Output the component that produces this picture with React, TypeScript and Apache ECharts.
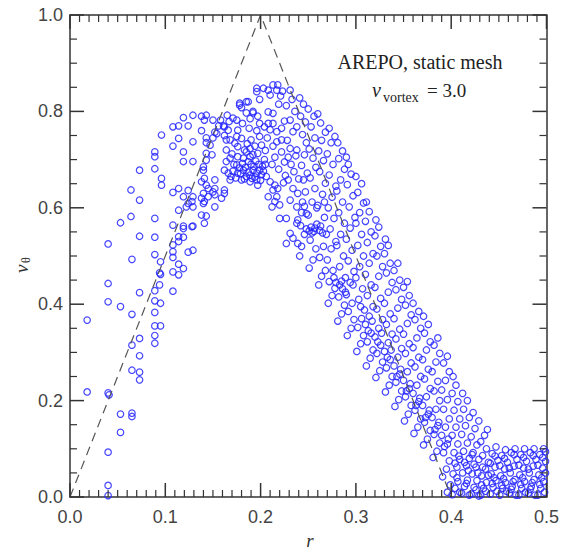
import React, { useEffect, useRef } from 'react';
import * as echarts from 'echarts';

// Axis ticks
const xTickValues = [0, 0.1, 0.2, 0.3, 0.4, 0.5];
const yTickValues = [0, 0.2, 0.4, 0.6, 0.8, 1.0];
const xMinorSplit = 10;
const yMinorSplit = 4;

// Analytic (dashed) profile: r, v
const analyticR = [0, 0.2, 0.4];
const analyticV = [0, 1, 0];

const innerPoints: number[][] = [
  [0.018,0.367],[0.018,0.218],
  [0.040,0.525],[0.040,0.443],[0.040,0.405],[0.040,0.216],[0.041,0.212],[0.040,0.093],[0.040,0.024],[0.040,0.003],
  [0.053,0.569],[0.053,0.395],[0.053,0.172],[0.053,0.134],
  [0.064,0.637],[0.064,0.582],[0.065,0.493],[0.065,0.379],[0.065,0.315],[0.065,0.263],[0.065,0.174],[0.065,0.167],
  [0.073,0.678],[0.073,0.616],[0.073,0.541],[0.073,0.424],[0.073,0.329],[0.073,0.293],[0.073,0.259],[0.073,0.243],
  [0.089,0.716],[0.089,0.706],[0.089,0.681],[0.089,0.578],[0.089,0.539],[0.089,0.503],[0.089,0.428],[0.089,0.407],
  [0.089,0.383],[0.089,0.355],[0.089,0.335],[0.089,0.319],
  [0.095,0.488],[0.095,0.462],[0.095,0.402],[0.095,0.355],[0.096,0.751],[0.096,0.661],[0.096,0.647],[0.094,0.465],[0.094,0.440],
];

const risePoints: number[][] = [
  [0.108,0.509],[0.108,0.497],[0.108,0.427],[0.108,0.467],[0.108,0.523],[0.108,0.564],[0.108,0.632],[0.108,0.728],[0.108,0.768],
  [0.114,0.483],[0.114,0.461],[0.114,0.530],[0.114,0.540],[0.114,0.595],[0.114,0.640],[0.114,0.744],[0.114,0.770],
  [0.119,0.474],[0.119,0.539],[0.119,0.557],[0.119,0.562],[0.119,0.623],[0.119,0.696],[0.119,0.716],[0.119,0.787],
  [0.122,0.602],[0.124,0.508],[0.124,0.609],[0.124,0.636],[0.124,0.770],
  [0.128,0.561],[0.128,0.613],[0.129,0.512],[0.129,0.562],[0.129,0.602],[0.129,0.623],[0.129,0.696],[0.129,0.737],[0.129,0.792],
  [0.138,0.585],[0.138,0.620],[0.138,0.654],[0.138,0.760],[0.138,0.790],
  [0.140,0.609],[0.140,0.630],[0.140,0.678],[0.140,0.685],
  [0.141,0.568],[0.141,0.613],[0.141,0.661],[0.141,0.782],
  [0.143,0.583],[0.143,0.647],[0.143,0.699],[0.143,0.713],[0.143,0.735],[0.143,0.745],[0.143,0.792],
  [0.145,0.623],[0.145,0.640],
  [0.147,0.730],[0.149,0.710],[0.150,0.633],[0.150,0.745],[0.150,0.782],
  [0.152,0.602],[0.152,0.627],[0.152,0.640],[0.152,0.658],[0.152,0.757],
  [0.154,0.754],[0.159,0.620],[0.161,0.770],[0.162,0.630],[0.162,0.637],[0.162,0.678],[0.162,0.750],[0.162,0.768],
  [0.164,0.696],[0.164,0.720],[0.164,0.741],[0.166,0.672],[0.166,0.761],[0.168,0.658],[0.168,0.703],[0.168,0.741],[0.169,0.665],
  [0.156,0.770],[0.158,0.782],[0.165,0.792],[0.167,0.779],
];

const peakPoints: number[][] = [
  [0.175,0.782],[0.176,0.761],[0.178,0.817],[0.185,0.820],[0.180,0.808],[0.178,0.813],[0.187,0.820],[0.192,0.800],[0.197,0.790],
  [0.196,0.841],[0.196,0.848],[0.203,0.848],[0.208,0.844],[0.213,0.855],[0.218,0.855],[0.217,0.844],[0.210,0.834],[0.199,0.825],
  [0.221,0.832],[0.223,0.842],[0.231,0.844],
  [0.185,0.797],[0.192,0.797],[0.189,0.785],
  [0.175,0.748],[0.176,0.727],[0.183,0.720],[0.189,0.723],[0.190,0.741],[0.199,0.748],
  [0.199,0.775],[0.208,0.799],[0.213,0.796],[0.208,0.775],[0.213,0.775],[0.217,0.758],[0.222,0.765],[0.222,0.741],[0.217,0.737],
  [0.231,0.782],[0.238,0.768],[0.231,0.723],[0.238,0.720],
  [0.176,0.672],[0.182,0.678],[0.185,0.665],[0.189,0.668],[0.192,0.678],[0.196,0.672],[0.199,0.678],[0.196,0.658],[0.197,0.647],
  [0.189,0.654],[0.180,0.658],[0.185,0.716],[0.189,0.706],[0.187,0.696],[0.182,0.703],[0.192,0.710],[0.176,0.706],[0.175,0.689],
  [0.172,0.690],[0.178,0.683],[0.181,0.692],[0.184,0.684],[0.187,0.674],[0.190,0.690],[0.193,0.686],[0.195,0.697],[0.198,0.690],
  [0.201,0.669],[0.202,0.686],[0.204,0.700],[0.171,0.676],[0.174,0.662],[0.179,0.671],[0.183,0.660],[0.191,0.661],[0.194,0.664],
  [0.200,0.657],[0.203,0.676],[0.205,0.690],[0.170,0.712],[0.173,0.734],[0.180,0.744],[0.186,0.733],[0.194,0.728],[0.197,0.713],
  [0.201,0.730],[0.205,0.719],[0.207,0.745],[0.210,0.762],[0.204,0.768],[0.196,0.760],[0.188,0.765],[0.181,0.775],[0.171,0.786],
  [0.206,0.665],[0.210,0.654],[0.215,0.647],[0.218,0.640],[0.213,0.637],[0.217,0.623],[0.220,0.606],[0.215,0.613],[0.208,0.623],
  [0.220,0.578],[0.212,0.602],
  [0.229,0.658],[0.234,0.640],[0.239,0.630],[0.231,0.616],[0.238,0.602],[0.239,0.575],[0.238,0.568],[0.227,0.578],[0.231,0.547],
  [0.234,0.537],[0.239,0.526],[0.227,0.526],
  [0.212,0.690],[0.215,0.705],[0.219,0.680],[0.222,0.716],[0.225,0.695],[0.226,0.667],[0.228,0.740],[0.229,0.705],[0.232,0.690],
  [0.234,0.758],[0.235,0.675],[0.236,0.800],[0.237,0.708],[0.240,0.660],[0.225,0.780],[0.227,0.812],[0.233,0.825],[0.219,0.815],
  [0.213,0.728],[0.224,0.652],
  [0.241,0.500],[0.243,0.520],[0.246,0.545],[0.242,0.563],[0.248,0.588],[0.244,0.612],[0.247,0.633],[0.245,0.658],[0.249,0.672],
  [0.243,0.688],[0.246,0.710],[0.248,0.735],[0.244,0.752],[0.247,0.778],[0.242,0.790],[0.245,0.815],[0.241,0.828],[0.246,0.603],
  [0.243,0.590],[0.248,0.556],
];

const declinePoints: number[][] = [
  [0.251,0.475],[0.255,0.492],[0.258,0.515],[0.252,0.533],[0.256,0.551],[0.253,0.560],[0.259,0.566],[0.250,0.585],[0.254,0.612],
  [0.257,0.640],[0.252,0.662],[0.258,0.684],[0.255,0.703],[0.251,0.722],[0.257,0.745],[0.253,0.768],[0.256,0.790],[0.250,0.805],
  [0.259,0.600],[0.254,0.548],[0.251,0.552],[0.257,0.558],
  [0.261,0.440],[0.264,0.458],[0.268,0.470],[0.262,0.497],[0.266,0.520],[0.269,0.545],[0.263,0.562],[0.267,0.580],[0.260,0.605],
  [0.265,0.628],[0.268,0.651],[0.262,0.675],[0.266,0.698],[0.261,0.718],[0.264,0.740],[0.268,0.757],[0.263,0.776],[0.260,0.795],
  [0.267,0.612],[0.265,0.548],[0.262,0.553],
  [0.271,0.402],[0.275,0.418],[0.278,0.433],[0.272,0.447],[0.276,0.470],[0.270,0.492],[0.274,0.515],[0.279,0.530],[0.273,0.556],
  [0.277,0.578],[0.271,0.600],[0.275,0.622],[0.279,0.645],[0.272,0.668],[0.276,0.690],[0.270,0.712],[0.274,0.735],[0.278,0.748],
  [0.272,0.765],[0.277,0.455],[0.279,0.445],
  [0.281,0.365],[0.285,0.380],[0.288,0.398],[0.282,0.415],[0.286,0.432],[0.289,0.455],[0.283,0.478],[0.287,0.500],[0.280,0.522],
  [0.284,0.545],[0.288,0.568],[0.282,0.590],[0.286,0.612],[0.280,0.635],[0.284,0.658],[0.288,0.680],[0.282,0.702],[0.286,0.718],
  [0.281,0.735],[0.289,0.425],[0.283,0.440],[0.285,0.448],
  [0.291,0.335],[0.295,0.350],[0.298,0.368],[0.292,0.385],[0.296,0.402],[0.290,0.420],[0.294,0.445],[0.298,0.468],[0.292,0.490],
  [0.296,0.512],[0.290,0.535],[0.294,0.558],[0.299,0.580],[0.293,0.602],[0.297,0.625],[0.291,0.648],[0.295,0.670],[0.292,0.690],
  [0.290,0.705],[0.297,0.440],
  [0.301,0.302],[0.305,0.318],[0.308,0.335],[0.302,0.352],[0.306,0.370],[0.309,0.388],[0.303,0.410],[0.307,0.432],[0.300,0.455],
  [0.304,0.478],[0.308,0.500],[0.302,0.522],[0.306,0.545],[0.300,0.568],[0.304,0.590],[0.308,0.610],[0.302,0.632],[0.306,0.650],
  [0.300,0.665],[0.305,0.395],
  [0.311,0.272],[0.315,0.288],[0.318,0.305],[0.312,0.322],[0.316,0.340],[0.310,0.358],[0.314,0.375],[0.318,0.395],[0.312,0.418],
  [0.316,0.440],[0.310,0.462],[0.314,0.485],[0.318,0.505],[0.312,0.528],[0.316,0.550],[0.310,0.572],[0.314,0.592],[0.311,0.612],
  [0.317,0.365],[0.313,0.345],
  [0.321,0.248],[0.325,0.262],[0.328,0.280],[0.322,0.298],[0.326,0.315],[0.320,0.332],[0.324,0.350],[0.328,0.368],[0.322,0.390],
  [0.326,0.412],[0.320,0.435],[0.324,0.458],[0.328,0.478],[0.322,0.500],[0.326,0.520],[0.320,0.542],[0.324,0.560],[0.321,0.575],
  [0.327,0.340],[0.323,0.322],
  [0.331,0.218],[0.335,0.232],[0.338,0.250],[0.332,0.268],[0.336,0.285],[0.330,0.302],[0.334,0.320],[0.338,0.338],[0.332,0.358],
  [0.336,0.380],[0.330,0.402],[0.334,0.425],[0.338,0.445],[0.332,0.465],[0.336,0.485],[0.330,0.505],[0.334,0.522],[0.331,0.535],
  [0.337,0.305],[0.333,0.290],
  [0.341,0.188],[0.345,0.202],[0.348,0.220],[0.342,0.238],[0.346,0.255],[0.340,0.272],[0.344,0.290],[0.348,0.308],[0.342,0.328],
  [0.346,0.348],[0.340,0.370],[0.344,0.392],[0.348,0.410],[0.342,0.430],[0.346,0.450],[0.340,0.470],[0.344,0.485],[0.347,0.265],
  [0.343,0.250],
  [0.351,0.158],[0.355,0.172],[0.358,0.190],[0.352,0.208],[0.356,0.225],[0.350,0.242],[0.354,0.260],[0.358,0.278],[0.352,0.298],
  [0.356,0.318],[0.350,0.338],[0.354,0.360],[0.358,0.378],[0.352,0.398],[0.356,0.418],[0.350,0.435],[0.354,0.447],[0.357,0.235],
  [0.353,0.220],
  [0.361,0.132],[0.365,0.145],[0.368,0.162],[0.362,0.180],[0.366,0.198],[0.360,0.215],[0.364,0.232],[0.368,0.250],[0.362,0.270],
  [0.366,0.290],[0.360,0.310],[0.364,0.330],[0.368,0.350],[0.362,0.368],[0.366,0.385],[0.360,0.402],[0.367,0.205],[0.363,0.190],
  [0.371,0.108],[0.375,0.120],[0.378,0.138],[0.372,0.155],[0.376,0.172],[0.370,0.190],[0.374,0.208],[0.378,0.225],[0.372,0.245],
  [0.376,0.265],[0.370,0.285],[0.374,0.305],[0.378,0.322],[0.372,0.340],[0.376,0.358],[0.371,0.375],[0.377,0.180],[0.373,0.165],
  [0.381,0.082],[0.385,0.095],[0.388,0.112],[0.382,0.130],[0.386,0.148],[0.380,0.165],[0.384,0.182],[0.388,0.200],[0.382,0.220],
  [0.386,0.240],[0.380,0.260],[0.384,0.280],[0.388,0.298],[0.382,0.315],[0.386,0.330],[0.387,0.155],[0.383,0.140],
  [0.391,0.042],[0.395,0.058],[0.398,0.075],[0.392,0.092],[0.396,0.110],[0.390,0.128],[0.394,0.145],[0.398,0.162],[0.392,0.182],
  [0.396,0.202],[0.390,0.222],[0.394,0.242],[0.398,0.260],[0.392,0.278],[0.396,0.292],[0.397,0.120],[0.393,0.105],[0.399,0.025],
  [0.396,0.010],
];

const tailPoints: number[][] = [
  [0.401,0.005],[0.404,0.018],[0.407,0.032],[0.402,0.048],[0.406,0.062],[0.409,0.078],[0.403,0.092],[0.407,0.110],[0.401,0.128],
  [0.405,0.145],[0.409,0.162],[0.403,0.180],[0.407,0.198],[0.401,0.215],[0.405,0.232],[0.402,0.250],[0.408,0.085],[0.404,0.070],
  [0.406,0.040],[0.409,0.010],
  [0.411,0.008],[0.414,0.022],[0.417,0.035],[0.412,0.050],[0.416,0.065],[0.419,0.080],[0.413,0.095],[0.417,0.112],[0.411,0.130],
  [0.415,0.148],[0.419,0.165],[0.413,0.182],[0.417,0.200],[0.412,0.215],[0.418,0.055],[0.414,0.072],[0.416,0.028],[0.419,0.004],
  [0.421,0.006],[0.424,0.020],[0.427,0.034],[0.422,0.048],[0.426,0.062],[0.429,0.078],[0.423,0.092],[0.427,0.108],[0.421,0.125],
  [0.425,0.142],[0.429,0.158],[0.423,0.175],[0.428,0.050],[0.424,0.068],[0.426,0.015],[0.429,0.002],[0.422,0.088],
  [0.431,0.004],[0.434,0.018],[0.437,0.030],[0.432,0.044],[0.436,0.058],[0.439,0.072],[0.433,0.086],[0.437,0.100],[0.431,0.115],
  [0.435,0.128],[0.438,0.140],[0.433,0.062],[0.436,0.012],[0.439,0.045],[0.432,0.025],
  [0.441,0.006],[0.444,0.020],[0.447,0.034],[0.442,0.048],[0.446,0.062],[0.449,0.076],[0.443,0.090],[0.447,0.104],[0.441,0.070],
  [0.445,0.040],[0.448,0.012],[0.443,0.028],[0.446,0.085],
  [0.451,0.004],[0.454,0.018],[0.457,0.030],[0.452,0.044],[0.456,0.058],[0.459,0.072],[0.453,0.086],[0.457,0.098],[0.451,0.065],
  [0.455,0.038],[0.458,0.012],[0.453,0.024],[0.456,0.080],
  [0.461,0.008],[0.464,0.022],[0.467,0.036],[0.462,0.050],[0.466,0.064],[0.469,0.078],[0.463,0.092],[0.467,0.100],[0.461,0.060],
  [0.465,0.032],[0.468,0.004],[0.463,0.016],[0.466,0.088],
  [0.471,0.004],[0.474,0.018],[0.477,0.032],[0.472,0.046],[0.476,0.060],[0.479,0.074],[0.473,0.088],[0.477,0.100],[0.471,0.066],
  [0.475,0.040],[0.478,0.010],[0.473,0.026],[0.476,0.082],
  [0.481,0.008],[0.484,0.022],[0.487,0.036],[0.482,0.050],[0.486,0.064],[0.489,0.078],[0.483,0.092],[0.487,0.100],[0.481,0.058],
  [0.485,0.030],[0.488,0.004],[0.483,0.016],[0.486,0.086],
  [0.491,0.004],[0.494,0.018],[0.497,0.032],[0.492,0.046],[0.496,0.060],[0.499,0.074],[0.493,0.088],[0.497,0.100],[0.491,0.066],
  [0.495,0.040],[0.498,0.010],[0.493,0.026],[0.496,0.082],[0.499,0.050],[0.499,0.094],
];

const pointGroups = [innerPoints, risePoints, peakPoints, declinePoints, tailPoints];

const annotationTitle = 'AREPO, static mesh';
const annotationValue = '= 3.0';

const AXIS_COLOR = '#333';
const LABEL_COLOR = '#444';
const SANS = '"Liberation Sans", Arial, sans-serif';
const SERIF = '"Liberation Serif", "Times New Roman", serif';

const X_MIN = xTickValues[0];
const X_MAX = xTickValues[xTickValues.length - 1];
const Y_MIN = yTickValues[0];
const Y_MAX = yTickValues[yTickValues.length - 1];

// subdivide the major tick intervals into minor tick positions
function minorPositions(majors: number[], split: number): number[] {
  const out: number[] = [];
  for (let i = 0; i < majors.length - 1; i++) {
    const step = (majors[i + 1] - majors[i]) / split;
    for (let k = 1; k < split; k++) out.push(majors[i] + step * k);
  }
  return out;
}

const fmt = (v: number) => v.toFixed(1);

function axisBase(min: number, max: number, interval: number, position: string, showLabel: boolean, margin: number) {
  return {
    type: 'value', position, min, max, interval,
    axisLine: { show: true, onZero: false, lineStyle: { color: AXIS_COLOR, width: 1.5 } },
    axisTick: { show: false },
    minorTick: { show: false },
    splitLine: { show: false },
    axisLabel: { show: showLabel, margin, fontSize: 18, color: LABEL_COLOR, fontFamily: SANS, formatter: fmt },
  };
}

// Tick marks drawn as a custom series, positioned through the axes' own scales
function tickSeries(values: number[], dir: 'x' | 'y', len: number, width: number) {
  return {
    type: 'custom',
    coordinateSystem: 'cartesian2d',
    clip: false,
    silent: true,
    z: 5,
    data: values.map((v) => (dir === 'x' ? [v, Y_MIN] : [X_MIN, v])),
    renderItem: (_params: any, api: any) => {
      const style = { stroke: AXIS_COLOR, lineWidth: width };
      if (dir === 'x') {
        const v = api.value(0);
        const b = api.coord([v, Y_MIN]);
        const t = api.coord([v, Y_MAX]);
        return {
          type: 'group',
          children: [
            { type: 'line', shape: { x1: b[0], y1: b[1], x2: b[0], y2: b[1] - len }, style },
            { type: 'line', shape: { x1: t[0], y1: t[1], x2: t[0], y2: t[1] + len }, style },
          ],
        };
      }
      const v = api.value(1);
      const l = api.coord([X_MIN, v]);
      const r = api.coord([X_MAX, v]);
      return {
        type: 'group',
        children: [
          { type: 'line', shape: { x1: l[0], y1: l[1], x2: l[0] + len, y2: l[1] }, style },
          { type: 'line', shape: { x1: r[0], y1: r[1], x2: r[0] - len, y2: r[1] }, style },
        ],
      };
    },
  };
}

export default function App() {
  const ref = useRef<HTMLDivElement>(null);

  useEffect(() => {
    document.body.style.margin = '0';
    if (!ref.current) return;
    const chart = echarts.init(ref.current, undefined, { renderer: 'svg' });

    chart.setOption({
      animation: false,
      backgroundColor: '#fff',
      grid: { left: 70, right: 15, top: 15, bottom: 53 },
      xAxis: [
        axisBase(X_MIN, X_MAX, 0.1, 'bottom', true, 11),
        axisBase(X_MIN, X_MAX, 0.1, 'top', false, 11),
      ],
      yAxis: [
        axisBase(Y_MIN, Y_MAX, 0.2, 'left', true, 7),
        axisBase(Y_MIN, Y_MAX, 0.2, 'right', false, 7),
      ],
      series: [
        ...pointGroups.map((g) => ({
          type: 'scatter',
          data: g,
          symbol: 'circle',
          symbolSize: 6.5,
          progressive: 0,
          itemStyle: { color: 'rgba(0,0,0,0)', borderColor: '#2626ff', borderWidth: 1.2, opacity: 0.85 },
        })),
        {
          type: 'line',
          data: analyticR.map((r, i) => [r, analyticV[i]]),
          symbol: 'none',
          lineStyle: { color: '#555', width: 1.2, type: [9, 6] },
          z: 3,
        },
        tickSeries(xTickValues, 'x', 14, 1.5),
        tickSeries(minorPositions(xTickValues, xMinorSplit), 'x', 7, 1.2),
        tickSeries(yTickValues, 'y', 14, 1.5),
        tickSeries(minorPositions(yTickValues, yMinorSplit), 'y', 7, 1.2),
      ],
      graphic: [
        { type: 'text', x: 420, y: 62,
          style: { text: annotationTitle, font: `20px ${SERIF}`, fill: '#222', align: 'center', verticalAlign: 'middle' } },
        { type: 'text', x: 372, y: 90,
          style: { text: 'v', font: `italic 20px ${SERIF}`, fill: '#222', align: 'left', verticalAlign: 'middle' } },
        { type: 'text', x: 383, y: 97,
          style: { text: 'vortex', font: `14px ${SERIF}`, fill: '#222', align: 'left', verticalAlign: 'middle' } },
        { type: 'text', x: 427, y: 90,
          style: { text: annotationValue, font: `19px ${SERIF}`, fill: '#222', align: 'left', verticalAlign: 'middle' } },
        { type: 'text', x: 310, y: 540,
          style: { text: 'r', font: `italic 19px ${SERIF}`, fill: '#333', align: 'center', verticalAlign: 'middle' } },
        { type: 'group', x: 21, y: 273, rotation: Math.PI / 2,
          children: [
            { type: 'text', x: 0, y: 0, style: { text: 'v', font: `italic 19px ${SERIF}`, fill: '#333', align: 'left', verticalAlign: 'middle' } },
            { type: 'text', x: 10, y: 5, style: { text: 'θ', font: `12px ${SERIF}`, fill: '#333', align: 'left', verticalAlign: 'middle' } },
          ] },
      ],
    });

    return () => chart.dispose();
  }, []);

  return <div ref={ref} style={{ width: 562, height: 550 }} />;
}
